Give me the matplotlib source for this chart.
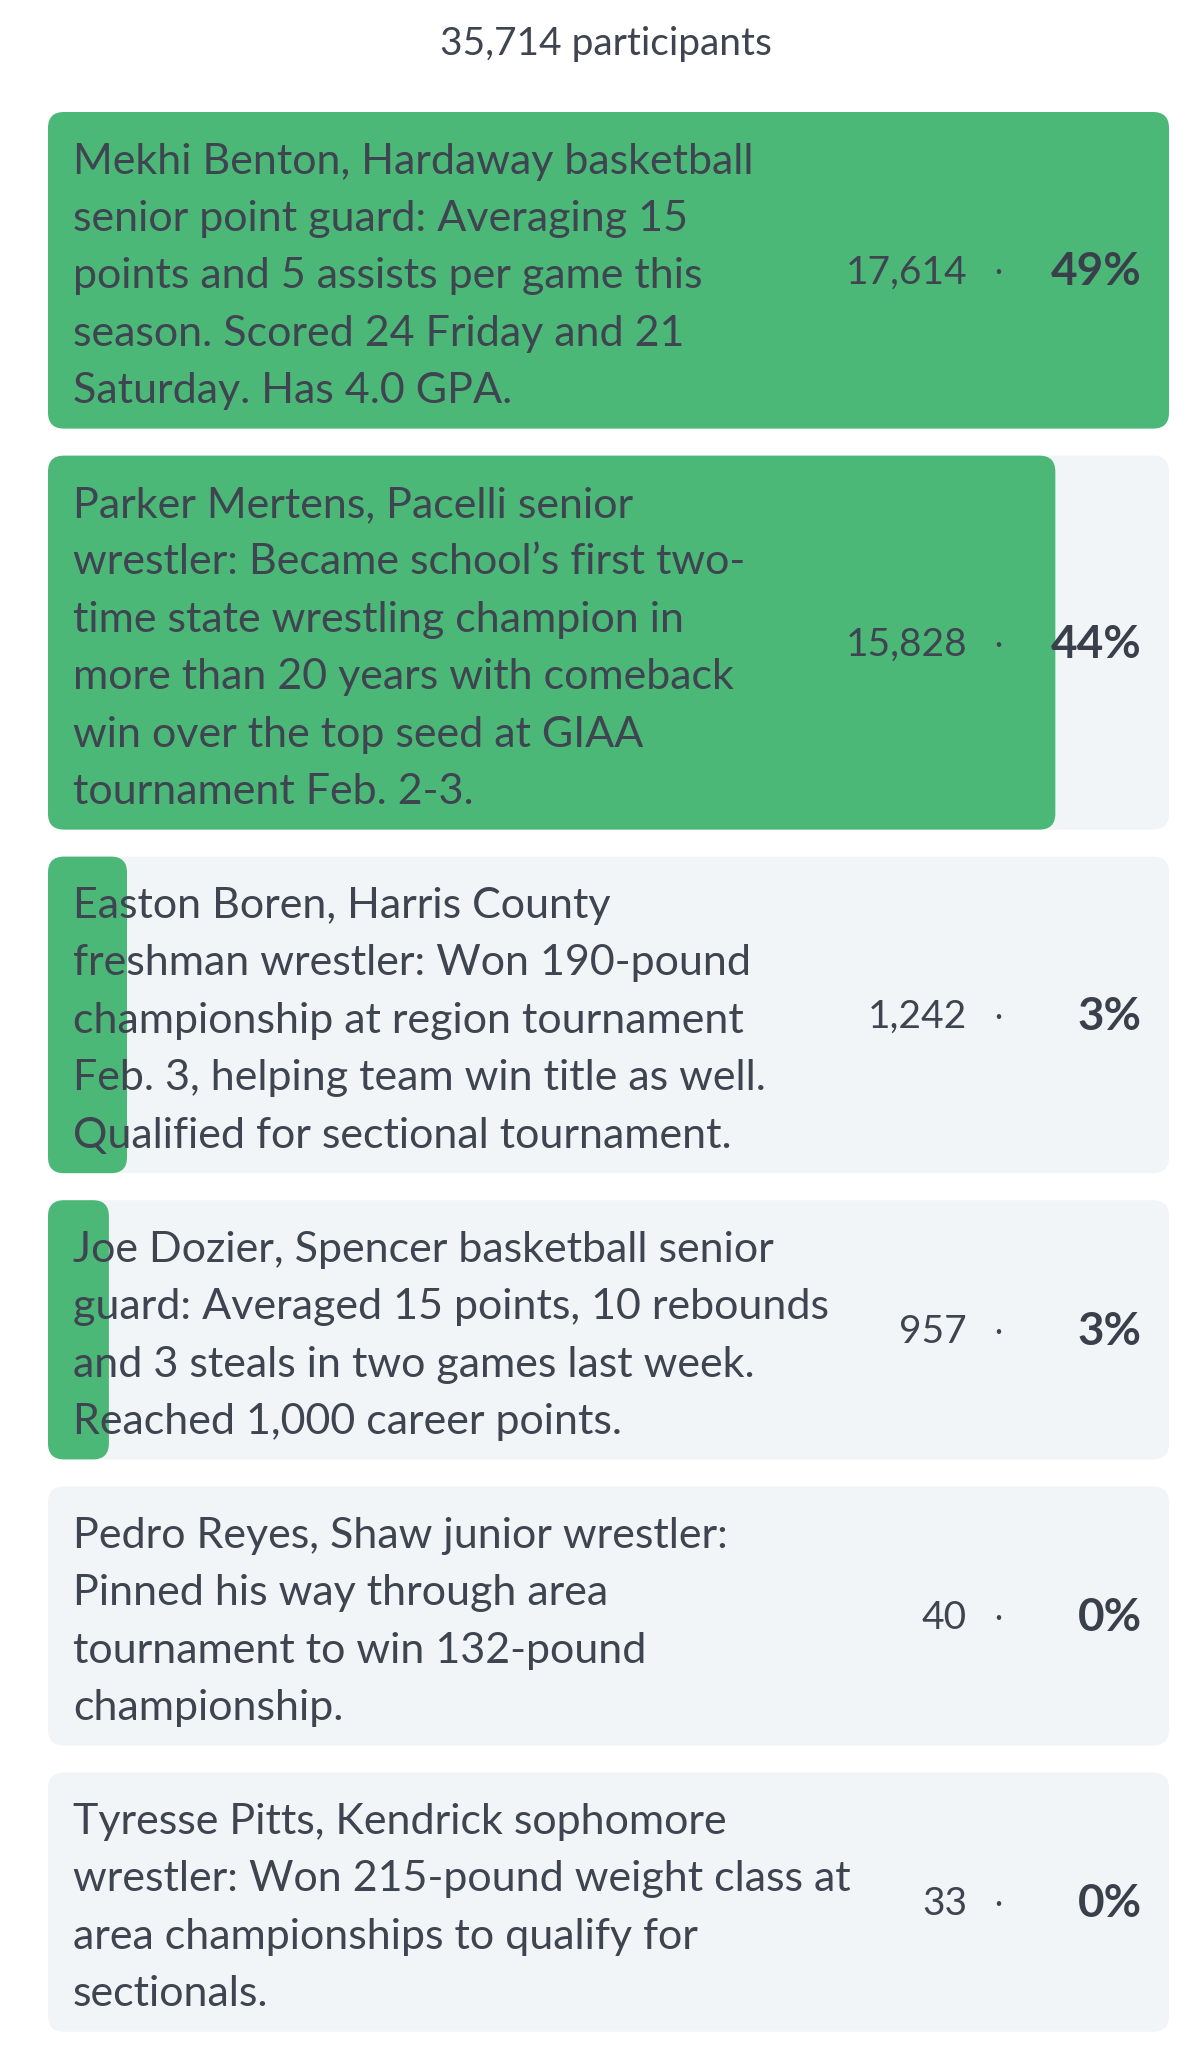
import matplotlib
matplotlib.use('Agg')
import matplotlib.pyplot as plt
from matplotlib.patches import FancyBboxPatch

plt.rcParams['font.family'] = ['Lato', 'DejaVu Sans']

# poll data
total = 35714
labels = [
    "Mekhi Benton, Hardaway basketball\nsenior point guard: Averaging 15\npoints and 5 assists per game this\nseason. Scored 24 Friday and 21\nSaturday. Has 4.0 GPA.",
    "Parker Mertens, Pacelli senior\nwrestler: Became school\u2019s first two-\ntime state wrestling champion in\nmore than 20 years with comeback\nwin over the top seed at GIAA\ntournament Feb. 2-3.",
    "Easton Boren, Harris County\nfreshman wrestler: Won 190-pound\nchampionship at region tournament\nFeb. 3, helping team win title as well.\nQualified for sectional tournament.",
    "Joe Dozier, Spencer basketball senior\nguard: Averaged 15 points, 10 rebounds\nand 3 steals in two games last week.\nReached 1,000 career points.",
    "Pedro Reyes, Shaw junior wrestler:\nPinned his way through area\ntournament to win 132-pound\nchampionship.",
    "Tyresse Pitts, Kendrick sophomore\nwrestler: Won 215-pound weight class at\narea championships to qualify for\nsectionals.",
]
votes = [17614, 15828, 1242, 957, 40, 33]

green = '#4cb878'
card_bg = '#f2f5f7'
text_col = '#3e4450'

W, H = 1200, 2045
fig = plt.figure(figsize=(W / 100, H / 100), dpi=100)
ax = fig.add_axes([0, 0, 1, 1])
ax.set_xlim(0, W)
ax.set_ylim(H, 0)
ax.axis('off')

ax.text(W / 2 + 6, 44, f"{total:,} participants", ha='center', va='center',
        fontsize=28, color=text_col)

# layout (pixels)
left, right = 48, 1169
line_h, pad, gap = 57.4, 14.8, 27
radius = 16
top = 112
max_votes = max(votes)

for label, n in zip(labels, votes):
    lines = label.split('\n')
    h = len(lines) * line_h + 2 * pad
    ax.add_patch(FancyBboxPatch((left, top), right - left, h,
                                boxstyle=f"round,pad=0,rounding_size={radius}",
                                fc=card_bg, ec='none'))
    bar_w = (right - left) * n / max_votes
    if bar_w > radius:  # tiny shares are not visible
        ax.add_patch(FancyBboxPatch((left, top), bar_w, h,
                                    boxstyle=f"round,pad=0,rounding_size={radius}",
                                    fc=green, ec='none'))
    for k, line in enumerate(lines):
        ax.text(73, top + pad + line_h * (k + 0.5) + 6, line, ha='left', va='center',
                fontsize=31, color=text_col)
    yc = top + h / 2 + 2
    ax.text(967, yc, f"{n:,}", ha='right', va='center', fontsize=28, color=text_col)
    ax.text(998, yc, "\u00b7", ha='center', va='center', fontsize=22, color=text_col)
    ax.text(1142, yc, f"{round(n / total * 100)}%", ha='right', va='center',
            fontsize=33, fontweight='bold', color='#3a404b')
    top += h + gap

fig.savefig('out.png', dpi=100, facecolor='white')
